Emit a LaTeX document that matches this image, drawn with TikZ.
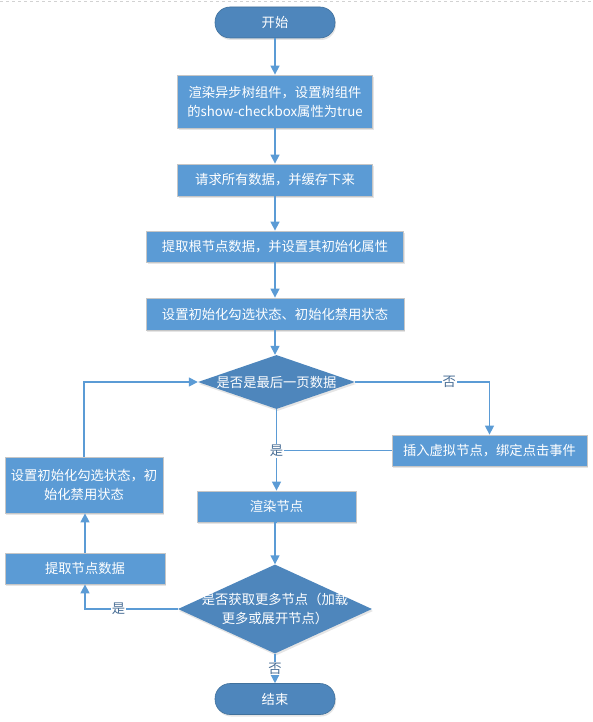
\documentclass[tikz,border=0pt]{standalone}
\usepackage{fontspec}
\setmainfont{Noto Sans CJK SC}
\usetikzlibrary{shapes.geometric,arrows.meta,shadows}
\definecolor{boxblue}{HTML}{5B9BD5}
\definecolor{darkblue}{HTML}{4E86BC}
\definecolor{edgeblue}{HTML}{41719C}
\definecolor{linkblue}{HTML}{5B9BD5}
\definecolor{labcol}{HTML}{4A6F96}
\begin{document}
\begin{tikzpicture}[x=1pt,y=-1pt,
  every node/.style={font=\fontsize{13.3pt}{19pt}\selectfont},
  shad/.style={drop shadow={shadow xshift=1pt,shadow yshift=-2pt,fill=black,opacity=0.10}},
  procbox/.style={shape=rectangle,fill=boxblue,draw=gray!45,line width=0.8pt,text=white,inner sep=2pt,align=center,shad},
  termbox/.style={shape=rectangle,rounded corners=15pt,fill=darkblue,draw=edgeblue,line width=0.6pt,text=white,minimum width=120pt,minimum height=31pt,shad},
  decbox/.style={shape=diamond,fill=darkblue,draw=none,inner sep=0pt,shad},
  dectext/.style={text=white,align=center,inner sep=0pt},
  link/.style={draw=linkblue,line width=1.5pt},
  arr/.style={link,-{Triangle[length=9pt,width=9pt]}},
  lab/.style={text=labcol,fill=white,inner sep=1pt}
]
\useasboundingbox (0,0) rectangle (593,722);
\draw[gray!35,dashed,line width=0.6pt] (0,1) -- (593,1);

\node[termbox] (start) at (275,22.5) {开始};
\node[procbox,minimum width=195pt,minimum height=53pt] (b1) at (275,101.5) {渲染异步树组件，设置树组件\\的show-checkbox属性为true};
\node[procbox,minimum width=195pt,minimum height=32pt] (b2) at (275,180) {请求所有数据，并缓存下来};
\node[procbox,minimum width=257pt,minimum height=31pt] (b3) at (275,246.5) {提取根节点数据，并设置其初始化属性};
\node[procbox,minimum width=258pt,minimum height=32pt] (b4) at (275,314) {设置初始化勾选状态、初始化禁用状态};
\node[decbox,minimum width=157pt,minimum height=54pt] (d1) at (276.5,382) {};
\node[dectext] (d1t) at (d1) {是否是最后一页数据};
\node[procbox,minimum width=195pt,minimum height=31pt] (r1) at (489.5,450.5) {插入虚拟节点，绑定点击事件};
\node[procbox,minimum width=159pt,minimum height=31pt] (b5) at (276.5,506.5) {渲染节点};
\node[decbox,minimum width=194pt,minimum height=89pt] (d2) at (275,609) {};
\node[dectext] (d2t) at (d2) {是否获取更多节点（加载\\更多或展开节点）};
\node[termbox] (end) at (275,699) {结束};
\node[procbox,minimum width=158pt,minimum height=56pt] (l1) at (84,485) {设置初始化勾选状态，初\\始化禁用状态};
\node[procbox,minimum width=160pt,minimum height=31pt] (l2) at (85,568.5) {提取节点数据};

\draw[arr] (start.south) -- (start.south |- b1.north);
\draw[arr] (b1.south) -- (b1.south |- b2.north);
\draw[arr] (b2.south) -- (b2.south |- b3.north);
\draw[arr] (b3.south) -- (b3.south |- b4.north);
\draw[arr] (b4.south) -- (b4.south |- d1.north);
\draw[arr] (d1.east) -| node[lab,pos=0.35] {否} (r1.north);
\draw[link] (r1.west) -- (r1.west -| d1.south);
\draw[arr] (d1.south) -- node[lab,pos=0.51] {是} (d1.south |- b5.north);
\draw[arr] (b5.south) -- (b5.south -| d2.north) -- (d2.north);
\draw[arr] (d2.south) -- node[lab,pos=0.5] {否} (end.north);
\draw[arr] (d2.west) -| node[lab,pos=0.32] {是} (l2.south);
\draw[arr] (l2.north) -- (l2.north |- l1.south);
\draw[arr] (l1.north) |- (d1.west);
\end{tikzpicture}
\end{document}
